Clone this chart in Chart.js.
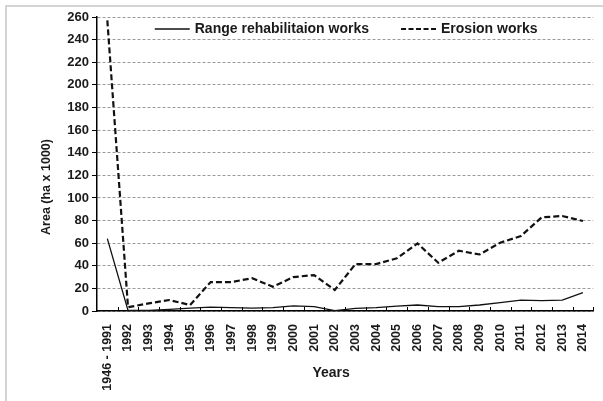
<!DOCTYPE html>
<html>
<head>
<meta charset="utf-8">
<script src="https://cdn.jsdelivr.net/npm/chart.js@4/dist/chart.umd.min.js"></script>
<style>
  html, body { margin: 0; padding: 0; background: #fff; overflow: hidden; }
  #chart { display: block; }
</style>
</head>
<body>
<canvas id="chart" width="603" height="401"></canvas>
<script>
// データ
const years = ['1946 - 1991', '1992', '1993', '1994', '1995', '1996', '1997', '1998', '1999', '2000',
    '2001', '2002', '2003', '2004', '2005', '2006', '2007', '2008', '2009', '2010',
    '2011', '2012', '2013', '2014'];
const rangeWorks = [64, 0.5, 0.5, 1.5, 2.5, 3.5, 3, 2.5, 3, 4.5,
    3.8, 0.3, 2.4, 3, 4.4, 5.3, 3.8, 3.8, 5.3, 7.4,
    9.7, 9.1, 9.7, 16.2];
const erosionWorks = [257, 3.3, 6.8, 9.7, 5.3, 25.6, 25.6, 29, 21.5, 30,
    31.8, 18.6, 41.5, 41.5, 46.6, 59.8, 42.7, 53.3, 50, 60.4,
    66.3, 82.8, 84, 79.6];
const seriesNames = ['Range rehabilitaion works', 'Erosion works'];
const yTicks = [0, 20, 40, 60, 80, 100, 120, 140, 160, 180, 200, 220, 240, 260];

const textColor = '#1a1a1a';
const fontFamily = '"Liberation Sans", Arial, sans-serif';

// 外枠（左と上だけ見える）
const outerFrame = {
    id: 'outerFrame',
    beforeDraw(chart) {
        const ctx = chart.ctx;
        ctx.save();
        ctx.strokeStyle = '#d4d4d4';
        ctx.lineWidth = 2;
        ctx.beginPath();
        ctx.moveTo(6, chart.height);
        ctx.lineTo(6, 6);
        ctx.lineTo(chart.width, 6);
        ctx.stroke();
        ctx.restore();
    }
};

// 凡例（プロット内に描く）
const innerLegend = {
    id: 'innerLegend',
    afterDraw(chart) {
        const ctx = chart.ctx;
        const area = chart.chartArea;
        const sampleW = 35;
        const gapText = 5, gapItem = 32;
        ctx.save();
        ctx.font = `bold 14px ${fontFamily}`;
        let total = 0;
        chart.data.datasets.forEach((ds, i) => {
            total += sampleW + gapText + ctx.measureText(ds.label).width;
            if (i > 0) total += gapItem;
        });
        let x = (area.left + area.right) / 2 - total / 2 + 1;
        const y = area.top + 12;
        chart.data.datasets.forEach((ds, i) => {
            if (i > 0) x += gapItem;
            ctx.strokeStyle = ds.borderColor;
            ctx.lineWidth = ds.borderWidth;
            ctx.setLineDash(ds.borderDash ? [5, 2.5] : []);
            ctx.beginPath();
            ctx.moveTo(x, y);
            ctx.lineTo(x + sampleW, y);
            ctx.stroke();
            x += sampleW + gapText;
            ctx.fillStyle = textColor;
            ctx.textBaseline = 'middle';
            ctx.fillText(ds.label, x, y);
            x += ctx.measureText(ds.label).width;
        });
        ctx.restore();
    }
};

// 軸タイトルと X軸の内向き目盛り
const axisExtras = {
    id: 'axisExtras',
    afterDraw(chart) {
        const ctx = chart.ctx;
        const area = chart.chartArea;
        const xs = chart.scales.x;
        ctx.save();
        ctx.strokeStyle = '#000';
        ctx.lineWidth = 1;
        for (let i = 1; i <= years.length; i++) {
            let px;
            if (i < years.length) {
                px = (xs.getPixelForValue(i - 1) + xs.getPixelForValue(i)) / 2;
            } else {
                px = area.right;
            }
            px = Math.round(px) + 0.5;
            ctx.beginPath();
            ctx.moveTo(px, area.bottom);
            ctx.lineTo(px, area.bottom - 4);
            ctx.stroke();
        }
        ctx.fillStyle = textColor;
        ctx.textAlign = 'center';
        ctx.textBaseline = 'middle';
        ctx.font = `bold 14px ${fontFamily}`;
        ctx.fillText('Years', (area.left + area.right) / 2 - 14, 373);

        ctx.font = `bold 12.5px ${fontFamily}`;
        ctx.translate(47, (area.top + area.bottom) / 2 + 23);
        ctx.rotate(-Math.PI / 2);
        ctx.fillText('Area (ha x 1000)', 0, 0);
        ctx.restore();
    }
};

new Chart(document.getElementById('chart'), {
    type: 'line',
    data: {
        labels: years,
        datasets: [{
            label: seriesNames[0],
            data: rangeWorks,
            borderColor: '#111',
            borderWidth: 1.3,
            pointRadius: 0,
            tension: 0
        }, {
            label: seriesNames[1],
            data: erosionWorks,
            borderColor: '#111',
            borderWidth: 2.2,
            borderDash: [6, 3],
            pointRadius: 0,
            tension: 0
        }]
    },
    options: {
        responsive: false,
        animation: false,
        layout: { padding: { left: 5, right: 4, top: 17, bottom: 0 } },
        plugins: {
            legend: { display: false },
            tooltip: { enabled: false }
        },
        scales: {
            x: {
                offset: true,
                afterFit(scale) { scale.height = 90; },
                grid: { display: false },
                border: { display: true, color: '#000', width: 1.5 },
                ticks: {
                    color: textColor,
                    font: { family: fontFamily, size: 12.5, weight: 'bold' },
                    minRotation: 90,
                    maxRotation: 90,
                    autoSkip: false,
                    padding: 5
                }
            },
            y: {
                min: 0,
                max: 260,
                afterFit(scale) { scale.width = 92; },
                afterBuildTicks(scale) { scale.ticks = yTicks.map(v => ({ value: v })); },
                grid: {
                    color: '#9a9a9a',
                    lineWidth: 1,
                    tickLength: 5,
                    tickColor: '#000',
                    tickBorderDash: [],
                    drawTicks: true
                },
                border: { display: true, color: '#000', width: 1.5, dash: [3, 2] },
                ticks: {
                    color: textColor,
                    font: { family: fontFamily, size: 13, weight: 'bold' },
                    padding: 3
                },
                title: { display: false }
            }
        }
    },
    plugins: [outerFrame, innerLegend, axisExtras]
});
</script>
</body>
</html>
